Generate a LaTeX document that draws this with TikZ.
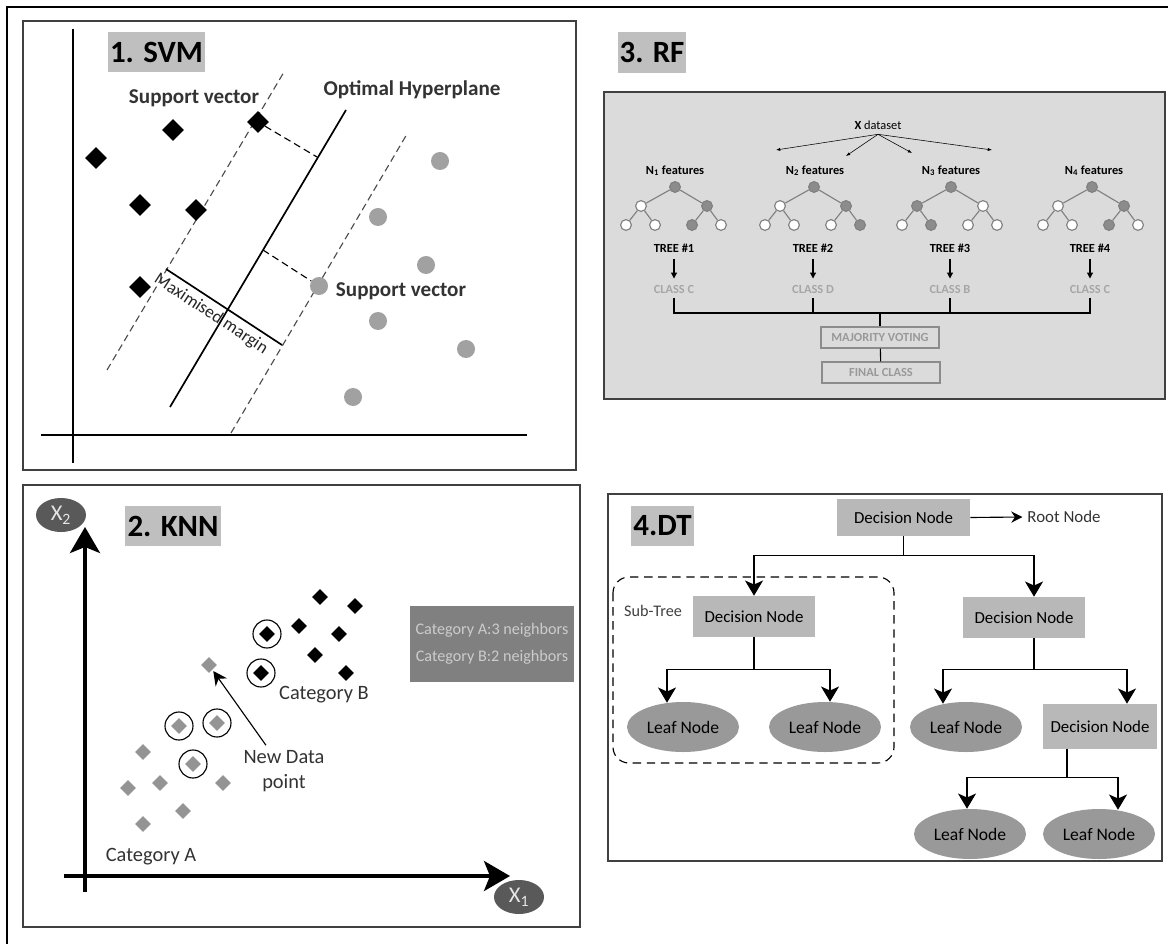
\documentclass[tikz,border=0pt]{standalone}
\usepackage{fontspec}
\setmainfont{Carlito}
\usetikzlibrary{shapes.geometric,arrows.meta,positioning,calc}

\begin{document}
\begin{tikzpicture}[x=0.025cm, y=-0.025cm,
	panel/.style={draw=black!75, line width=1.1pt},
	title/.style={fill=black!25, inner sep=0pt, minimum height=1cm, font=\fontsize{22}{24}\selectfont\bfseries},
	lbl/.style={text=black!80, font=\fontsize{15}{17}\selectfont\bfseries},
	sdash/.style={thick, black!70, dash pattern=on 5pt off 3pt},
	sdiam/.style={diamond, fill=black, minimum size=0.55cm, inner sep=0pt},
	sdot/.style={circle, fill=black!37, minimum size=0.45cm, inner sep=0pt},
	kdiam/.style={diamond, fill=black, minimum size=0.4cm, inner sep=0pt},
	gdiam/.style={diamond, fill=black!42, minimum size=0.4cm, inner sep=0pt},
	ring/.style={circle, draw, thick, minimum size=0.7cm},
	ktxt/.style={text=black!80, font=\fontsize{14.5}{18}\selectfont},
	axarr/.style={line width=2.5pt, -{Stealth[length=0.65cm, width=0.75cm, inset=0.15cm]}},
	karr/.style={thick, -{Stealth[length=0.35cm, width=0.35cm]}, shorten >=1pt},
	tnode/.style={circle, draw=black!50, thick, fill=white, minimum size=0.27cm, inner sep=0pt},
	tfull/.style={tnode, fill=black!45},
	tedge/.style={black!50, thick},
	rftxt/.style={font=\fontsize{8.8}{10}\selectfont\bfseries},
	rfarr/.style={thick, -{Triangle[length=0.15cm, width=0.15cm]}, shorten <=1pt, shorten >=1pt},
	rfbox/.style={draw=black!45, thick, text=black!40, minimum width=2.95cm, minimum height=0.525cm, inner sep=0pt, font=\fontsize{8.8}{10}\selectfont\bfseries},
	dn/.style={fill=black!28, minimum width=3.05cm, minimum height=1.025cm, inner sep=0pt, font=\fontsize{12}{13}\selectfont},
	leaf/.style={ellipse, fill=black!40, minimum width=2.8cm, minimum height=1.25cm, inner sep=0pt, font=\fontsize{12.5}{13}\selectfont},
	dtarr/.style={thick, -{Stealth[length=0.38cm, width=0.45cm, inset=0.1cm]}},
	line/.style={thick},
	font=\fontsize{12}{14}\selectfont]

    \useasboundingbox (0,0) rectangle (1168,944);
    \fill[white] (0,0) rectangle (1168,944);
    \draw[line width=1pt] (7,944) -- (7,7) -- (1168,7);

    % 1. SVM
    \draw[panel] (23,21) rectangle (576,470);
    \node (svmT) at (156.5,52) [title, minimum width=2.425cm] {1. SVM};
    \draw[thick] (73,29) -- (73,463);
    \draw[thick] (41,435) -- (527,435);
    \draw[sdash] (107,370) -- (284,72);
    \draw[sdash] (231,433) -- (407,134);
    \draw[line width=1.2pt] (170,407) -- (346,110);

    \node (sd1) at (96,158) [sdiam] {};
    \node (sd2) at (173,130) [sdiam] {};
    \node (sd3) at (258,122) [sdiam] {};
    \node (sd4) at (140,205) [sdiam] {};
    \node (sd5) at (196,210) [sdiam] {};
    \node (sd6) at (140,287) [sdiam] {};

    \node (sc1) at (440,161) [sdot] {};
    \node (sc2) at (378,217) [sdot] {};
    \node (sc3) at (426,265) [sdot] {};
    \node (sc4) at (319,286) [sdot] {};
    \node (sc5) at (378,321) [sdot] {};
    \node (sc6) at (466,349) [sdot] {};
    \node (sc7) at (353,397) [sdot] {};

    \coordinate (foot1) at (317,157);
    \coordinate (foot2) at (263,250);
    \draw [sdash, black] (sd3) -- (foot1);
    \draw [sdash, black] (foot2) -- (sc4);

    \coordinate (mrgA) at (166,269);
    \coordinate (mrgB) at (282,345);
    \draw [line width=1.2pt] (mrgA) -- node [below, sloped, pos=0.45, text=black!85, font=\fontsize{12.5}{14}\selectfont] {Maximised margin} (mrgB);

    \node (svTop) at (194,98) [lbl] {Support vector};
    \node (svBot) at (401,291) [lbl] {Support vector};
    \node (hyp) at (412,90) [lbl] {Optimal Hyperplane};

    % 3. RF
    \node (rfT) at (652,52.5) [title, minimum width=1.7cm] {3. RF};
    \draw[panel, fill=black!14] (604,92) rectangle (1165,399);

    \node (xds) at (878,125) [font=\fontsize{8.8}{10}\selectfont] {\textbf{X} dataset};
    \coordinate (xa1) at (776,150);
    \coordinate (xa2) at (846,156);
    \coordinate (xa3) at (912,153);
    \coordinate (xa4) at (992,150);
    \draw [-{Latex[length=3pt]}] (xds.south) -- (xa1);
    \draw [-{Latex[length=3pt]}] (xds.south) -- (xa2);
    \draw [-{Latex[length=3pt]}] (xds.south) -- (xa3);
    \draw [-{Latex[length=3pt]}] (xds.south) -- (xa4);

    \node (f1) at (675,171) [rftxt] {N\textsubscript{1} features};
    \node (f2) at (815,171) [rftxt] {N\textsubscript{2} features};
    \node (f3) at (951,171) [rftxt] {N\textsubscript{3} features};
    \node (f4) at (1094,171) [rftxt] {N\textsubscript{4} features};

    % tree 1
    \node (t1r) at (675,187) [tfull] {};
    \node (t1a) at (641,206) [tnode] {};
    \node (t1b) at (707,206) [tfull] {};
    \node (t1aa) at (626,225) [tnode] {};
    \node (t1ab) at (655,225) [tnode] {};
    \node (t1ba) at (692,225) [tfull] {};
    \node (t1bb) at (721,225) [tnode] {};
    \draw[tedge] (t1r) -- (t1a) (t1r) -- (t1b) (t1a) -- (t1aa) (t1a) -- (t1ab) (t1b) -- (t1ba) (t1b) -- (t1bb);
    % tree 2
    \node (t2r) at (814,187) [tfull] {};
    \node (t2a) at (780,206) [tnode] {};
    \node (t2b) at (846,206) [tfull] {};
    \node (t2aa) at (765,225) [tnode] {};
    \node (t2ab) at (794,225) [tnode] {};
    \node (t2ba) at (831,225) [tnode] {};
    \node (t2bb) at (860,225) [tfull] {};
    \draw[tedge] (t2r) -- (t2a) (t2r) -- (t2b) (t2a) -- (t2aa) (t2a) -- (t2ab) (t2b) -- (t2ba) (t2b) -- (t2bb);
    % tree 3
    \node (t3r) at (951,187) [tfull] {};
    \node (t3a) at (917,206) [tfull] {};
    \node (t3b) at (983,206) [tnode] {};
    \node (t3aa) at (902,225) [tnode] {};
    \node (t3ab) at (931,225) [tfull] {};
    \node (t3ba) at (968,225) [tnode] {};
    \node (t3bb) at (997,225) [tnode] {};
    \draw[tedge] (t3r) -- (t3a) (t3r) -- (t3b) (t3a) -- (t3aa) (t3a) -- (t3ab) (t3b) -- (t3ba) (t3b) -- (t3bb);
    % tree 4
    \node (t4r) at (1092,187) [tfull] {};
    \node (t4a) at (1058,206) [tnode] {};
    \node (t4b) at (1124,206) [tfull] {};
    \node (t4aa) at (1043,225) [tnode] {};
    \node (t4ab) at (1072,225) [tnode] {};
    \node (t4ba) at (1109,225) [tfull] {};
    \node (t4bb) at (1138,225) [tnode] {};
    \draw[tedge] (t4r) -- (t4a) (t4r) -- (t4b) (t4a) -- (t4aa) (t4a) -- (t4ab) (t4b) -- (t4ba) (t4b) -- (t4bb);

    \node (tr1) at (674,248) [rftxt] {TREE \#1};
    \node (tr2) at (813,248) [rftxt] {TREE \#2};
    \node (tr3) at (950,248) [rftxt] {TREE \#3};
    \node (tr4) at (1090,248) [rftxt] {TREE \#4};
    \node (cl1) at (674,289) [rftxt, text=black!35] {CLASS C};
    \node (cl2) at (813,289) [rftxt, text=black!35] {CLASS D};
    \node (cl3) at (950,289) [rftxt, text=black!35] {CLASS B};
    \node (cl4) at (1090,289) [rftxt, text=black!35] {CLASS C};
    \draw [rfarr] (tr1) -- (cl1);
    \draw [rfarr] (tr2) -- (cl2);
    \draw [rfarr] (tr3) -- (cl3);
    \draw [rfarr] (tr4) -- (cl4);

    \node (mv) at (880,337.5) [rfbox] {MAJORITY VOTING};
    \node (fc) at (881,372.5) [rfbox] {FINAL CLASS};
    \coordinate (join) at (880,313);
    \draw [line] (cl1.south) |- (join) -- (mv.north);
    \draw [line] (cl4.south) |- (join);
    \draw [line] (cl2.south) -- (cl2.south |- join);
    \draw [line] (cl3.south) -- (cl3.south |- join);
    \draw [line] (mv) -- (fc);

    % 2. KNN
    \draw[panel] (23,485) rectangle (580,927);
    \node (knnT) at (173,526) [title, minimum width=2.4cm] {2. KNN};
    \node (x2lab) at (61,515) [ellipse, fill=black!65, text=black!10, minimum width=1.25cm, minimum height=0.85cm, inner sep=0pt, font=\fontsize{16}{17}\selectfont] {X\textsubscript{2}};
    \node (x1lab) at (519,897) [ellipse, fill=black!65, text=black!10, minimum width=1.25cm, minimum height=0.85cm, inner sep=0pt, font=\fontsize{16}{17}\selectfont] {X\textsubscript{1}};
    \coordinate (ybot) at (85,892);
    \coordinate (ytop) at (85,527);
    \coordinate (xlft) at (64,876);
    \coordinate (xrgt) at (510,876);
    \draw [axarr] (ybot) -- (ytop);
    \draw [axarr] (xlft) -- (xrgt);

    \node (kb1) at (320,597) [kdiam] {};
    \node (kb2) at (355,606) [kdiam] {};
    \node (kb3) at (299,626) [kdiam] {};
    \node (kb4) at (339,634) [kdiam] {};
    \node (kb5) at (315,655) [kdiam] {};
    \node (kb6) at (346,673) [kdiam] {};
    \node (kb7) at (267,634) [kdiam] {};
    \node (kb8) at (261,673) [kdiam] {};
    \node (rb7) at (kb7) [ring] {};
    \node (rb8) at (kb8) [ring] {};

    \node (newpt) at (209,665) [gdiam] {};
    \node (ka1) at (179,726) [gdiam] {};
    \node (ka2) at (217,723) [gdiam] {};
    \node (ka3) at (193,764) [gdiam] {};
    \node (ra1) at (ka1) [ring] {};
    \node (ra2) at (ka2) [ring] {};
    \node (ra3) at (ka3) [ring] {};
    \node (ka4) at (143,752) [gdiam] {};
    \node (ka5) at (160,783) [gdiam] {};
    \node (ka6) at (128,788) [gdiam] {};
    \node (ka7) at (223,783) [gdiam] {};
    \node (ka8) at (183,811) [gdiam] {};
    \node (ka9) at (143,824) [gdiam] {};

    \node (newtxt) at (284,771) [ktxt, align=center] {New Data\\point};
    \draw [karr] (newtxt.125) -- (newpt);
    \node (catB) at (324,695) [ktxt] {Category B};
    \node (catA) at (151,857) [ktxt] {Category A};
    \node (kbox) at (492,644) [fill=black!50, text=black!20, minimum width=4.1cm, minimum height=1.9cm, align=center, inner sep=0pt, font=\fontsize{11.5}{19}\selectfont] {Category A:3 neighbors\\Category B:2 neighbors};

    % 4. DT
    \draw[panel] (608,494) rectangle (1162,861);
    \node (dtT) at (662.5,526) [title, minimum width=1.575cm] {4.DT};
    \node (root) at (903.5,517.5) [dn, minimum width=3.325cm, minimum height=0.925cm] {Decision Node};
    \node (rootlbl) at (1064,517) [text=black!80, font=\fontsize{12}{13}\selectfont] {Root Node};
    \draw [thick, -{Stealth[length=0.28cm, width=0.28cm]}] (root.east) -- (rootlbl.west);

    \draw [thick, dash pattern=on 6pt off 4pt, rounded corners=0.4cm] (613,577) rectangle (894,763);
    \node (subt) at (653,611) [text=black!75, font=\fontsize{11.5}{13}\selectfont] {Sub-Tree};

    \node (ldn) at (754,616.5) [dn] {Decision Node};
    \node (rdn) at (1024,617.5) [dn] {Decision Node};
    \node (leafA) at (683,727) [leaf] {Leaf Node};
    \node (leafB) at (825,727) [leaf] {Leaf Node};
    \node (leafC) at (966,727) [leaf] {Leaf Node};
    \node (brdn) at (1100,726.5) [dn, minimum width=2.85cm, minimum height=1.125cm] {Decision Node};
    \node (leafD) at (970,834) [leaf] {Leaf Node};
    \node (leafE) at (1099,834) [leaf] {Leaf Node};

    \draw [dtarr] (root.south) -- ++(0,19) -| (ldn.north);
    \draw [dtarr] (root.south) -- ++(0,19) -| ($(rdn.north)+(10,0)$);
    \draw [dtarr] (ldn.south) -- ++(0,32) -| ($(leafA.north)+(-16,1)$);
    \draw [dtarr] (ldn.south) -- ++(0,32) -| ($(leafB.north)+(5,0)$);
    \draw [dtarr] ($(rdn.south)+(10,0)$) -- ++(0,31) -| ($(leafC.north)+(-23,2)$);
    \draw [dtarr] ($(rdn.south)+(10,0)$) -- ++(0,31) -| ($(brdn.north)+(27,0)$);
    \draw [dtarr] ($(brdn.south)+(-33,0)$) -- ++(0,28) -| ($(leafD.north)+(-3,0)$);
    \draw [dtarr] ($(brdn.south)+(-33,0)$) -- ++(0,28) -| ($(leafE.north)+(19,1)$);

\end{tikzpicture}
\end{document}
